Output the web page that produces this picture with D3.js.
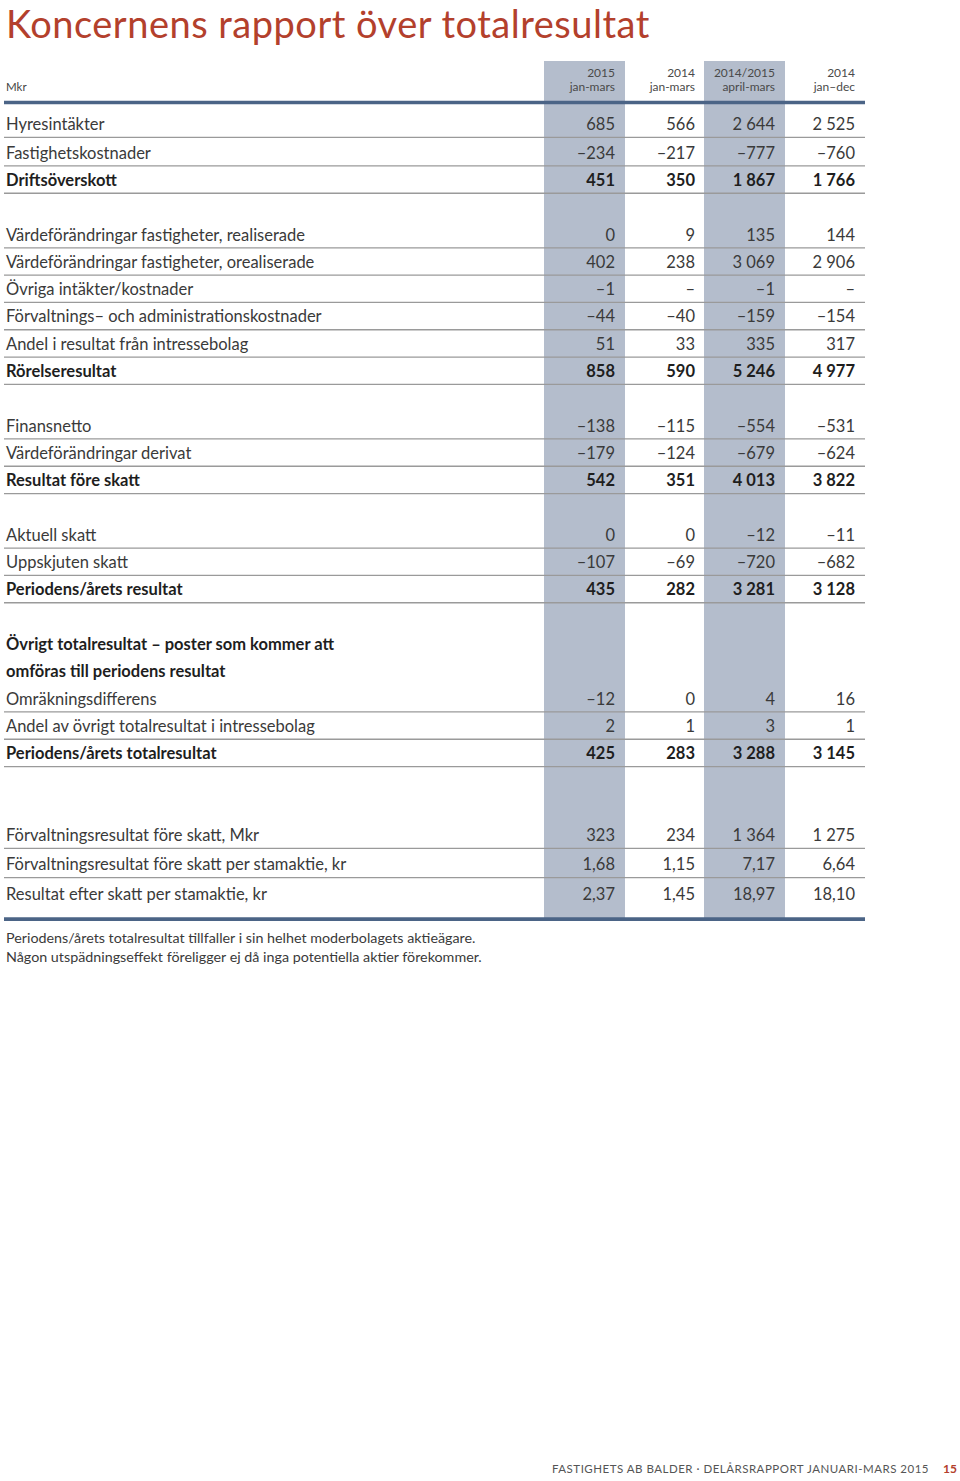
<!DOCTYPE html>
<html><head><meta charset="utf-8">
<script src="https://cdn.jsdelivr.net/npm/d3@7"></script>
<style>
html,body{margin:0;padding:0;background:#fff;}
svg{display:block;font-family:Lato,"Open Sans",sans-serif;}
</style></head>
<body><svg id="c" width="960" height="1481"></svg>
<script>
// ---------- data ----------
const title = "Koncernens rapport över totalresultat";
const unitLabel = "Mkr";
const colYears = ["2015", "2014", "2014/2015", "2014"];
const colPeriods = ["jan-mars", "jan-mars", "april-mars", "jan\u2013dec"];
const shadedCols = [0, 2];

const rowLabels = [
  "Hyresintäkter", "Fastighetskostnader", "Driftsöverskott",
  "Värdeförändringar fastigheter, realiserade", "Värdeförändringar fastigheter, orealiserade",
  "Övriga intäkter/kostnader", "Förvaltnings\u2013 och administrationskostnader",
  "Andel i resultat från intressebolag", "Rörelseresultat",
  "Finansnetto", "Värdeförändringar derivat", "Resultat före skatt",
  "Aktuell skatt", "Uppskjuten skatt", "Periodens/årets resultat",
  "Övrigt totalresultat \u2013 poster som kommer att", "omföras till periodens resultat",
  "Omräkningsdifferens", "Andel av övrigt totalresultat i intressebolag", "Periodens/årets totalresultat",
  "Förvaltningsresultat före skatt, Mkr", "Förvaltningsresultat före skatt per stamaktie, kr",
  "Resultat efter skatt per stamaktie, kr"
];
const rowKinds = [
  "item", "item", "total",
  "item", "item", "item", "item", "item", "total",
  "item", "item", "total",
  "item", "item", "total",
  "heading", "heading", "item", "item", "total",
  "item", "ratio", "ratio"
];
const rowGroups = [0,0,0, 1,1,1,1,1,1, 2,2,2, 3,3,3, 4,4,4,4,4, 5,5,5];

const val2015q1 = [685, -234, 451, 0, 402, -1, -44, 51, 858, -138, -179, 542, 0, -107, 435, null, null, -12, 2, 425, 323, 1.68, 2.37];
const val2014q1 = [566, -217, 350, 9, 238, null, -40, 33, 590, -115, -124, 351, 0, -69, 282, null, null, 0, 1, 283, 234, 1.15, 1.45];
const valRolling = [2644, -777, 1867, 135, 3069, -1, -159, 335, 5246, -554, -679, 4013, -12, -720, 3281, null, null, 4, 3, 3288, 1364, 7.17, 18.97];
const val2014 = [2525, -760, 1766, 144, 2906, null, -154, 317, 4977, -531, -624, 3822, -11, -682, 3128, null, null, 16, 1, 3145, 1275, 6.64, 18.10];
const columns = [val2015q1, val2014q1, valRolling, val2014];

const footnotes = [
  "Periodens/årets totalresultat tillfaller i sin helhet moderbolagets aktieägare.",
  "Någon utspädningseffekt föreligger ej då inga potentiella aktier förekommer."
];
const footerText = "FASTIGHETS AB BALDER \u00b7 DELÅRSRAPPORT JANUARI-MARS 2015";
const pageNumber = "15";

// ---------- layout ----------
const svg = d3.select("#c");
const sv = d3.formatLocale({decimal: ",", thousands: "\u00a0", grouping: [3], currency: ["", " kr"], minus: "\u2013"});
const fmtInt = sv.format(",d");
const fmtDec = sv.format(",.2f");

const textCol = "#3a3a3a", boldCol = "#1e1e1e", shade = "#b4bdcc", rule = "#4b6486", thin = "#9a9a9a";
const leftX = 4, rightX = 865;

// slot positions with gaps between groups (last group has slightly taller rows)
const slots = [];
rowGroups.forEach((g, i) => {
  if (i === 0) slots.push(0);
  else if (g !== rowGroups[i - 1]) slots.push(slots[i - 1] + (g === 5 ? 3 : 2));
  else slots.push(slots[i - 1] + (g === 5 ? 1.07 : 1) + (i === 1 ? 0.05 : 0));
});
const y = d3.scaleLinear().domain([0, 1]).range([124, 151.3]);
const x = d3.scaleBand().domain(d3.range(colYears.length)).range([545, 865]);

const headTop = 61, headRuleY = 102.5;
const bottomRuleY = y(slots[slots.length - 1]) + 25.5;

// title
svg.append("text").attr("x", 6).attr("y", 37.5)
  .attr("font-size", 38).attr("letter-spacing", 0.5).attr("fill", "#b3402c").text(title);

// shaded columns
svg.selectAll("rect.shade").data(shadedCols).join("rect")
  .attr("class", "shade")
  .attr("x", d => x(d) - 1).attr("width", x.bandwidth() + 1)
  .attr("y", headTop).attr("height", bottomRuleY - headTop)
  .attr("fill", shade);

// header
svg.append("text").attr("x", 6).attr("y", 91).attr("font-size", 11.5).attr("fill", "#444").text(unitLabel);
const hdr = svg.selectAll("g.hdr").data(colYears).join("g").attr("class", "hdr");
hdr.append("text").attr("x", (d, i) => x(i) + x.bandwidth() - 10).attr("y", 77)
  .attr("text-anchor", "end").attr("font-size", 12).attr("fill", "#4a4a4a").text(d => d);
hdr.append("text").attr("x", (d, i) => x(i) + x.bandwidth() - 10).attr("y", 91)
  .attr("text-anchor", "end").attr("font-size", 12).attr("fill", "#4a4a4a").text((d, i) => colPeriods[i]);

// thick rules
svg.selectAll("line.rule").data([headRuleY, bottomRuleY]).join("line")
  .attr("class", "rule").attr("x1", leftX).attr("x2", rightX)
  .attr("y1", d => d).attr("y2", d => d)
  .attr("stroke", rule).attr("stroke-width", 3.6);

// thin row lines
const lineRows = rowLabels.map((d, i) => i).filter(i => rowKinds[i] !== "heading" && i !== rowLabels.length - 1);
svg.selectAll("line.row").data(lineRows).join("line")
  .attr("class", "row").attr("x1", leftX).attr("x2", rightX)
  .attr("y1", i => y(slots[i]) + 13.3).attr("y2", i => y(slots[i]) + 13.3)
  .attr("stroke", thin).attr("stroke-width", 1.3);

// row labels
const isBold = k => k === "total" || k === "heading";
svg.selectAll("text.lbl").data(rowLabels).join("text")
  .attr("class", "lbl").attr("x", 6)
  .attr("y", (d, i) => y(slots[i]) + 6)
  .attr("font-size", 16.5)
  .attr("font-weight", (d, i) => isBold(rowKinds[i]) ? 700 : 400)
  .attr("fill", (d, i) => isBold(rowKinds[i]) ? boldCol : textCol)
  .text(d => d);

// values
columns.forEach((col, c) => {
  const cells = col.map((v, i) => ({v, i})).filter(d => rowKinds[d.i] !== "heading");
  svg.selectAll("text.v" + c).data(cells).join("text")
    .attr("class", "v" + c)
    .attr("x", x(c) + x.bandwidth() - 10)
    .attr("y", d => y(slots[d.i]) + 6)
    .attr("text-anchor", "end")
    .attr("font-size", 16.5)
    .attr("font-weight", d => rowKinds[d.i] === "total" ? 700 : 400)
    .attr("fill", d => rowKinds[d.i] === "total" ? boldCol : textCol)
    .text(d => d.v === null ? "\u2013" : (rowKinds[d.i] === "ratio" ? fmtDec(d.v) : fmtInt(d.v)));
});

// footnotes
svg.selectAll("text.fn").data(footnotes).join("text")
  .attr("class", "fn").attr("x", 6).attr("y", (d, i) => 943 + i * 18.5)
  .attr("font-size", 14.3).attr("fill", textCol).text(d => d);

// footer
svg.append("text").attr("x", 552).attr("y", 1473).attr("font-size", 11.5)
  .attr("letter-spacing", 0.5).attr("fill", "#555").text(footerText);
svg.append("text").attr("x", 957).attr("y", 1473).attr("text-anchor", "end")
  .attr("font-size", 12).attr("font-weight", 700).attr("fill", "#b3402c").text(pageNumber);
</script>
</body></html>
